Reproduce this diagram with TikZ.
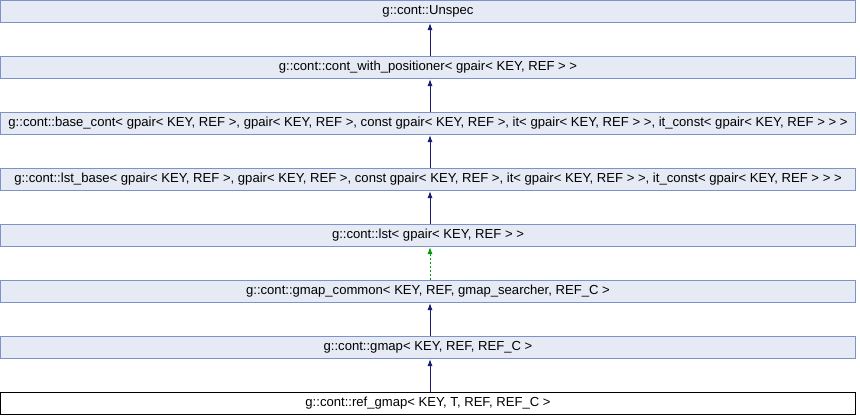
\documentclass[tikz,border=0pt]{standalone}
\usepackage{fontspec}
\setmainfont{Liberation Sans}
\usetikzlibrary{arrows.meta}

\definecolor{boxfill}{HTML}{E6EAF4}
\definecolor{boxline}{HTML}{7C93C8}
\definecolor{inherit}{HTML}{191970}
\definecolor{usage}{HTML}{009900}

\begin{document}
\begin{tikzpicture}[x=1pt,y=-1pt,font=\fontsize{13.1}{14}\selectfont]

        \useasboundingbox (0,0) rectangle (860,416);

        \begin{scope}[every node/.style={rectangle,draw=boxline,fill=boxfill,line width=1pt,
            minimum width=855pt,minimum height=22pt,inner sep=0pt}]
          \node (1) at (428,11.5)  {g::cont::Unspec};
          \node (2) at (428,67.5)  {g::cont::cont\_with\_positioner< gpair< KEY, REF > >};
          \node (3) at (428,123.5) {g::cont::base\_cont< gpair< KEY, REF >, gpair< KEY, REF >, const gpair< KEY, REF >, it< gpair< KEY, REF > >, it\_const< gpair< KEY, REF > > >};
          \node (4) at (428,179.5) {g::cont::lst\_base< gpair< KEY, REF >, gpair< KEY, REF >, const gpair< KEY, REF >, it< gpair< KEY, REF > >, it\_const< gpair< KEY, REF > > >};
          \node (5) at (428,235.5) {g::cont::lst< gpair< KEY, REF > >};
          \node (6) at (428,291.5) {g::cont::gmap\_common< KEY, REF, gmap\_searcher, REF\_C >};
          \node (7) at (428,347.5) {g::cont::gmap< KEY, REF, REF\_C >};
          \node[draw=black,fill=white] (8) at (428,403.5) {g::cont::ref\_gmap< KEY, T, REF, REF\_C >};
        \end{scope}

        \begin{scope}[every edge/.style={draw=inherit,line width=1pt,-{Latex[length=7pt,width=5pt]}}]
          \path ([xshift=2pt]2.north) edge ([xshift=2pt]1.south);
          \path ([xshift=2pt]3.north) edge ([xshift=2pt]2.south);
          \path ([xshift=2pt]4.north) edge ([xshift=2pt]3.south);
          \path ([xshift=2pt]5.north) edge ([xshift=2pt]4.south);
          \path ([xshift=2pt]6.north) edge[draw=usage,dash pattern=on 2pt off 2pt] ([xshift=2pt]5.south);
          \path ([xshift=2pt]7.north) edge ([xshift=2pt]6.south);
          \path ([xshift=2pt]8.north) edge ([xshift=2pt]7.south);
        \end{scope}

      \end{tikzpicture}
\end{document}
